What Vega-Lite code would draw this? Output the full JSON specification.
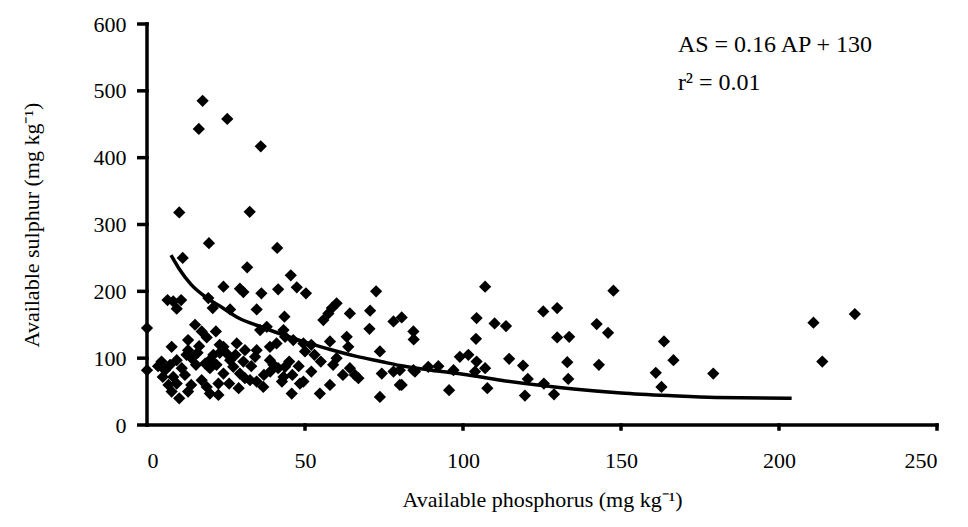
{
  "$schema": "https://vega.github.io/schema/vega-lite/v6.json",
  "width": 790,
  "height": 401,
  "autosize": {"type": "none"},
  "padding": {"left": 147, "top": 24, "right": 31, "bottom": 102},
  "background": "white",
  "config": {
    "view": {"stroke": null},
    "axis": {
      "grid": false,
      "domain": false,
      "ticks": false,
      "labelFont": "Liberation Serif",
      "labelFontSize": 22,
      "labelColor": "black",
      "titleFont": "Liberation Serif",
      "titleFontSize": 22,
      "titleFontWeight": "normal",
      "titleColor": "black"
    }
  },
  "datasets": {
    "pts": [
      {"ap": 17.6, "as": 485}, {"ap": 25.4, "as": 458}, {"ap": 16.4, "as": 443}, {"ap": 36, "as": 417},
      {"ap": 10.2, "as": 318}, {"ap": 32.5, "as": 319}, {"ap": 19.6, "as": 272}, {"ap": 41.2, "as": 265},
      {"ap": 11.3, "as": 250}, {"ap": 31.7, "as": 236}, {"ap": 45.5, "as": 224},
      {"ap": 24.2, "as": 207}, {"ap": 29.4, "as": 204}, {"ap": 30.5, "as": 199}, {"ap": 36.2, "as": 197},
      {"ap": 41.5, "as": 203}, {"ap": 47.4, "as": 206}, {"ap": 50.3, "as": 197}, {"ap": 72.5, "as": 200},
      {"ap": 6.5, "as": 187}, {"ap": 8.3, "as": 185}, {"ap": 10.8, "as": 187}, {"ap": 9.4, "as": 174},
      {"ap": 19.4, "as": 190}, {"ap": 20.8, "as": 175}, {"ap": 26.3, "as": 173}, {"ap": 34.7, "as": 173},
      {"ap": 43.5, "as": 162}, {"ap": 60, "as": 182}, {"ap": 58.5, "as": 175}, {"ap": 57.4, "as": 167},
      {"ap": 55.8, "as": 157}, {"ap": 64.2, "as": 167}, {"ap": 70.6, "as": 171}, {"ap": 70.4, "as": 144},
      {"ap": 78, "as": 155}, {"ap": 80.6, "as": 161}, {"ap": 84.3, "as": 140}, {"ap": 84.4, "as": 128},
      {"ap": 15.2, "as": 150}, {"ap": 17.3, "as": 140}, {"ap": 18.9, "as": 131}, {"ap": 21.8, "as": 140},
      {"ap": 7.8, "as": 117}, {"ap": 13, "as": 127}, {"ap": 23, "as": 120}, {"ap": 28.4, "as": 122},
      {"ap": 34.7, "as": 112}, {"ap": 34.2, "as": 102}, {"ap": 38.9, "as": 117}, {"ap": 41, "as": 122},
      {"ap": 43.2, "as": 142}, {"ap": 43.7, "as": 132}, {"ap": 46.3, "as": 127}, {"ap": 49.5, "as": 122},
      {"ap": 52, "as": 120}, {"ap": 57.9, "as": 125}, {"ap": 63.2, "as": 132}, {"ap": 63.7, "as": 117},
      {"ap": 73.7, "as": 110}, {"ap": 35.8, "as": 142}, {"ap": 37.9, "as": 147},
      {"ap": 4.6, "as": 95}, {"ap": 5.7, "as": 82}, {"ap": 7.3, "as": 90}, {"ap": 9.4, "as": 97},
      {"ap": 11, "as": 85}, {"ap": 8.3, "as": 72}, {"ap": 6.8, "as": 60}, {"ap": 9.4, "as": 62},
      {"ap": 7.8, "as": 50}, {"ap": 10.2, "as": 40}, {"ap": 13, "as": 112}, {"ap": 14.1, "as": 100},
      {"ap": 12, "as": 75}, {"ap": 15.5, "as": 90}, {"ap": 18.4, "as": 92}, {"ap": 19.9, "as": 85},
      {"ap": 22, "as": 90}, {"ap": 17.3, "as": 67}, {"ap": 18.9, "as": 57}, {"ap": 22.6, "as": 62},
      {"ap": 19.9, "as": 47}, {"ap": 22.6, "as": 45}, {"ap": 24.2, "as": 117}, {"ap": 25.2, "as": 107},
      {"ap": 26.3, "as": 97}, {"ap": 27.3, "as": 87}, {"ap": 24.2, "as": 77}, {"ap": 29.4, "as": 77},
      {"ap": 31, "as": 70}, {"ap": 32.6, "as": 67}, {"ap": 34.7, "as": 65}, {"ap": 36.8, "as": 57},
      {"ap": 38.9, "as": 97}, {"ap": 40, "as": 90}, {"ap": 41.5, "as": 85}, {"ap": 43.7, "as": 87},
      {"ap": 43.2, "as": 72}, {"ap": 42.7, "as": 65}, {"ap": 45.8, "as": 47}, {"ap": 48.4, "as": 62},
      {"ap": 49.5, "as": 65}, {"ap": 52, "as": 80}, {"ap": 54.7, "as": 47}, {"ap": 57.9, "as": 60},
      {"ap": 58.9, "as": 90}, {"ap": 64.2, "as": 85}, {"ap": 65.8, "as": 75}, {"ap": 66.9, "as": 70},
      {"ap": 73.7, "as": 42}, {"ap": 74.3, "as": 77}, {"ap": 78, "as": 80}, {"ap": 80, "as": 60},
      {"ap": 84.3, "as": 82}, {"ap": 16.5, "as": 118}, {"ap": 21, "as": 105}, {"ap": 30.5, "as": 95},
      {"ap": 33, "as": 88},
      {"ap": 12.5, "as": 105}, {"ap": 16, "as": 108}, {"ap": 20, "as": 98}, {"ap": 23, "as": 108},
      {"ap": 28, "as": 105}, {"ap": 31, "as": 112}, {"ap": 37, "as": 75}, {"ap": 39, "as": 80},
      {"ap": 45, "as": 95}, {"ap": 48, "as": 88}, {"ap": 50, "as": 110}, {"ap": 53, "as": 105},
      {"ap": 55, "as": 95}, {"ap": 60, "as": 100}, {"ap": 62, "as": 75}, {"ap": 46, "as": 75},
      {"ap": 26, "as": 62}, {"ap": 29, "as": 55}, {"ap": 14, "as": 60}, {"ap": 13, "as": 50},
      {"ap": 5, "as": 72}, {"ap": 3.5, "as": 88},
      {"ap": 107, "as": 207}, {"ap": 147.6, "as": 201}, {"ap": 104.3, "as": 160}, {"ap": 104.1, "as": 129},
      {"ap": 110, "as": 152}, {"ap": 113.6, "as": 148}, {"ap": 125.4, "as": 170}, {"ap": 129.8, "as": 175},
      {"ap": 129.8, "as": 131}, {"ap": 133.6, "as": 132}, {"ap": 142.3, "as": 151}, {"ap": 145.9, "as": 138},
      {"ap": 133, "as": 94}, {"ap": 133.3, "as": 69}, {"ap": 143, "as": 90}, {"ap": 114.6, "as": 99},
      {"ap": 119, "as": 89}, {"ap": 120.5, "as": 69}, {"ap": 119.6, "as": 44}, {"ap": 125.6, "as": 62},
      {"ap": 128.8, "as": 46}, {"ap": 95.6, "as": 52}, {"ap": 107.7, "as": 55}, {"ap": 99, "as": 102},
      {"ap": 101.7, "as": 105}, {"ap": 104.3, "as": 95}, {"ap": 107, "as": 85}, {"ap": 103.8, "as": 80},
      {"ap": 80, "as": 82}, {"ap": 84.8, "as": 80}, {"ap": 89, "as": 87}, {"ap": 92.2, "as": 88},
      {"ap": 97, "as": 82}, {"ap": 80.6, "as": 60}, {"ap": 163.6, "as": 125}, {"ap": 166.6, "as": 97},
      {"ap": 161, "as": 78}, {"ap": 162.8, "as": 57}, {"ap": 179.2, "as": 77}, {"ap": 210.9, "as": 153},
      {"ap": 224, "as": 166}, {"ap": 213.7, "as": 95}, {"ap": 0, "as": 145}, {"ap": 0, "as": 82}
    ],
    "fit": [
      {"ap": 7.6, "as": 254}, {"ap": 10, "as": 235}, {"ap": 14, "as": 210}, {"ap": 19, "as": 190},
      {"ap": 24, "as": 175}, {"ap": 29, "as": 160}, {"ap": 36, "as": 147}, {"ap": 43, "as": 135},
      {"ap": 50, "as": 124}, {"ap": 58, "as": 113}, {"ap": 66, "as": 103}, {"ap": 74, "as": 95},
      {"ap": 80, "as": 89}, {"ap": 90, "as": 82}, {"ap": 100, "as": 76}, {"ap": 112, "as": 67},
      {"ap": 125, "as": 59}, {"ap": 135, "as": 54}, {"ap": 150, "as": 48}, {"ap": 165, "as": 44},
      {"ap": 180, "as": 41}, {"ap": 204, "as": 40}
    ],
    "frame": [
      {"seg": "yaxis", "ap": 0, "as": 0}, {"seg": "yaxis", "ap": 0, "as": 600},
      {"seg": "xaxis", "ap": 0, "as": 0}, {"seg": "xaxis", "ap": 250, "as": 0},
      {"seg": "y0", "ap": -2.6, "as": 0}, {"seg": "y0", "ap": 0, "as": 0},
      {"seg": "y100", "ap": -2.6, "as": 100}, {"seg": "y100", "ap": 0, "as": 100},
      {"seg": "y200", "ap": -2.6, "as": 200}, {"seg": "y200", "ap": 0, "as": 200},
      {"seg": "y300", "ap": -2.6, "as": 300}, {"seg": "y300", "ap": 0, "as": 300},
      {"seg": "y400", "ap": -2.6, "as": 400}, {"seg": "y400", "ap": 0, "as": 400},
      {"seg": "y500", "ap": -2.6, "as": 500}, {"seg": "y500", "ap": 0, "as": 500},
      {"seg": "y600", "ap": -2.6, "as": 600}, {"seg": "y600", "ap": 0, "as": 600},
      {"seg": "x50", "ap": 50, "as": 0}, {"seg": "x50", "ap": 50, "as": -6},
      {"seg": "x100", "ap": 100, "as": 0}, {"seg": "x100", "ap": 100, "as": -6},
      {"seg": "x150", "ap": 150, "as": 0}, {"seg": "x150", "ap": 150, "as": -6},
      {"seg": "x200", "ap": 200, "as": 0}, {"seg": "x200", "ap": 200, "as": -6},
      {"seg": "x250", "ap": 250, "as": 0}, {"seg": "x250", "ap": 250, "as": -6}
    ],
    "eq": [
      {"ap": 168, "as": 569, "label": "AS = 0.16 AP + 130"},
      {"ap": 168, "as": 512, "label": "r² = 0.01"}
    ]
  },
  "encoding": {
    "x": {
      "field": "ap", "type": "quantitative",
      "scale": {"domain": [0, 250], "nice": false},
      "axis": {"values": [0, 50, 100, 150, 200, 250], "labelPadding": 25,
               "title": "Available phosphorus (mg kg⁻¹)", "titlePadding": 18}
    },
    "y": {
      "field": "as", "type": "quantitative",
      "scale": {"domain": [0, 600], "nice": false},
      "axis": {"values": [0, 100, 200, 300, 400, 500, 600], "labelPadding": 21,
               "title": "Available sulphur (mg kg⁻¹)", "titlePadding": 50}
    }
  },
  "layer": [
    {
      "data": {"name": "frame"},
      "mark": {"type": "line", "color": "black", "strokeWidth": 3.5, "strokeCap": "square", "interpolate": "linear"},
      "encoding": {"detail": {"field": "seg"}}
    },
    {
      "data": {"name": "pts"},
      "mark": {"type": "point", "shape": "diamond", "filled": true, "color": "black", "size": 150, "opacity": 1}
    },
    {
      "data": {"name": "fit"},
      "mark": {"type": "line", "color": "black", "strokeWidth": 3.5, "interpolate": "monotone"}
    },
    {
      "data": {"name": "eq"},
      "mark": {"type": "text", "align": "left", "baseline": "middle", "font": "Liberation Serif", "fontSize": 24, "color": "black"},
      "encoding": {"text": {"field": "label"}}
    }
  ]
}
